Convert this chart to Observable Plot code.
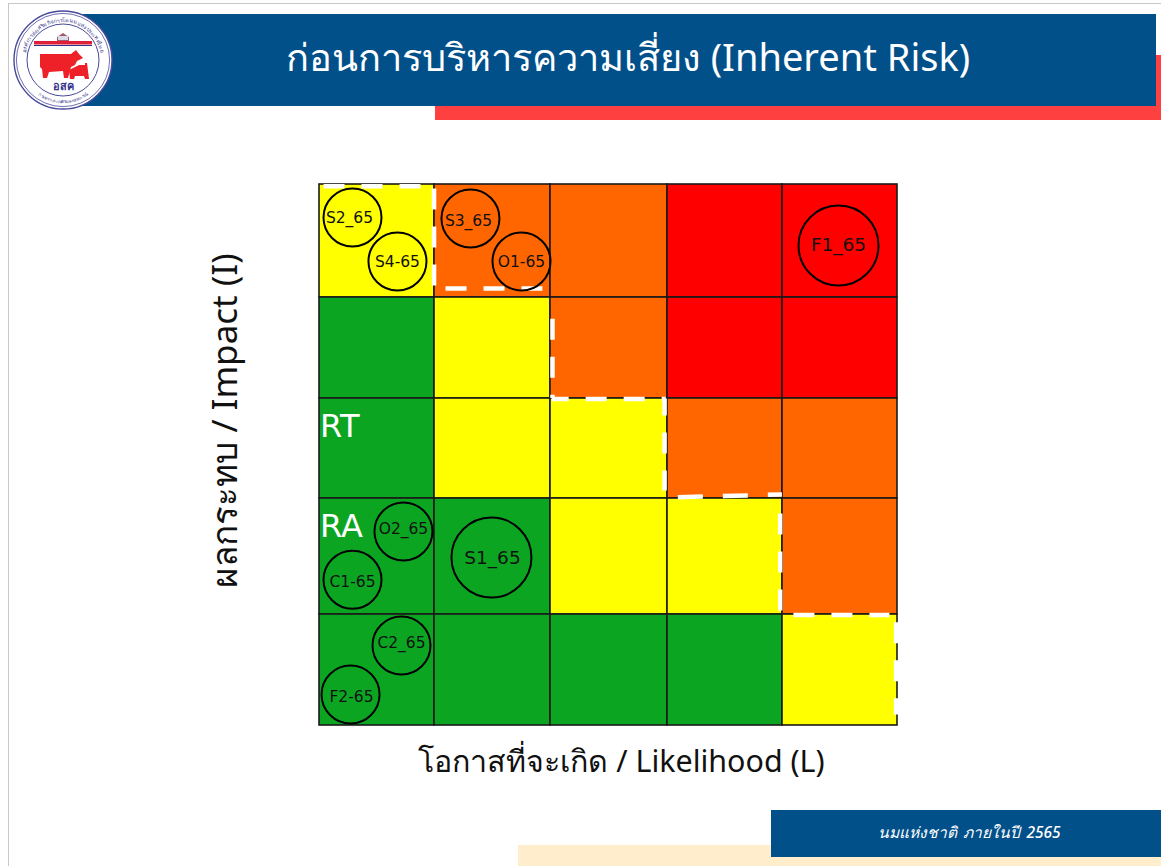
<!DOCTYPE html>
<html lang="th">
<head>
<meta charset="utf-8">
<script src="https://cdn.jsdelivr.net/npm/d3@7"></script>
<script src="https://cdn.jsdelivr.net/npm/@observablehq/plot@0.6"></script>
<style>
html,body{margin:0;padding:0;background:#fff;width:1161px;height:866px;overflow:hidden;font-family:"Noto Sans","Open Sans",sans-serif}
.abs{position:absolute}
#frameT{left:8px;top:3px;width:1153px;height:1px;background:#c8c8c8}
#frameL{left:8px;top:3px;width:1px;height:863px;background:#c8c8c8}
#red{left:435px;top:55px;width:726px;height:65px;background:#ff4040}
#blue{left:70px;top:14px;width:1086px;height:92px;background:#02508a}
h1{position:absolute;left:100px;top:13px;width:1056px;height:86px;margin:0;line-height:86px;text-align:center;color:#fff;font-size:38px;font-weight:400;white-space:nowrap}
#logo{left:13px;top:9px;width:100px;height:102px}
#chart{left:0;top:130px}
#beige{left:518px;top:845px;width:643px;height:21px;background:#ffedcc}
#foot{left:771px;top:810px;width:390px;height:47px;background:#02508a;color:#fff;font-style:italic;font-weight:500;font-size:15.5px;line-height:45px;text-align:center;padding-left:7px;box-sizing:border-box;word-spacing:2px}
</style>
</head>
<body>
<div class="abs" id="frameT"></div><div class="abs" id="frameL"></div>
<div class="abs" id="red"></div><div class="abs" id="blue"></div>
<h1>ก่อนการบริหารความเสี่ยง (Inherent Risk)</h1>
<svg class="abs" id="logo" viewBox="0 0 100 102" aria-label="logo">
  <circle cx="50" cy="51" r="49" fill="#fff" stroke="#4a4a9c" stroke-width="1.4"/>
  <circle cx="50" cy="51" r="46.6" fill="none" stroke="#4a4a9c" stroke-width=".8"/>
  <circle cx="50" cy="51" r="36" fill="#fff" stroke="#4a4a9c" stroke-width="1"/>
  <defs>
    <path id="ringTop" d="M12 51 A38 38 0 0 1 88 51"/>
    <path id="ringBot" d="M8 60.4 A43 43 0 0 0 92 60.4"/>
  </defs>
  <text font-size="5.4" fill="#33338a" font-family="Noto Sans"><textPath href="#ringTop" startOffset="50%" text-anchor="middle">องค์การส่งเสริมกิจการโคนมแห่งประเทศไทย</textPath></text>
  <text font-size="4.6" fill="#33338a" font-family="Noto Sans"><textPath href="#ringBot" startOffset="50%" text-anchor="middle">กระทรวงเกษตรและสหกรณ์</textPath></text>
  <rect x="21" y="32" width="58" height="3.5" fill="#e0203a"/>
  <rect x="21" y="36" width="58" height="1" fill="#33338a"/>
  <path d="M44 32V28L50 24L56 28V32Z" fill="#a05a6a"/>
  <rect x="45" y="27" width="10" height="4" fill="#dcdce8"/>
  <path d="M27 45H58L63 41L66 45L70 49L64 52L62 56L58 58L55 69H51L50 62L36 63L34 69H30L29 60L27 58Z" fill="#ee2028"/>
  <path d="M56 61L66 56H72V54H74L76 70H72L71 67H62L61 70H57Z" fill="#ee2028"/>
  <text x="50" y="81" text-anchor="middle" font-size="11" font-weight="700" fill="#33338a" font-family="Noto Sans">อสค</text>
</svg>
<div class="abs" id="chart"></div>
<div class="abs" id="beige"></div>
<div class="abs" id="foot">นมแห่งชาติ ภายในปี 2565</div>
<script>
// Grid: likelihood columns 1..5, impact rows 5..1 (top to bottom)
const rowImpact = [5, 4, 3, 2, 1];
const levelColor = {G: "#0ca522", Y: "#ffff00", O: "#ff6600", R: "#ff0000"};
const rowLevels = [
  ["Y", "O", "O", "R", "R"],
  ["G", "Y", "O", "R", "R"],
  ["G", "Y", "Y", "O", "O"],
  ["G", "G", "Y", "Y", "O"],
  ["G", "G", "G", "G", "Y"]
];
const cells = rowImpact.flatMap((imp, r) => rowLevels[r].map((lv, c) => ({L: c + 1, I: imp, lv})));

// Risk items: circle position and label position in likelihood / impact units
const riskNames = ["S2_65", "S4-65", "S3_65", "O1-65", "O2_65", "C1-65", "C2_65", "F2-65"];
const riskL =     [0.287, 0.678, 1.31, 1.75, 0.73, 0.287, 0.713, 0.27];
const riskI =     [4.708, 4.319, 4.699, 4.319, 1.716, 1.30, 0.721, 0.279];
const riskTextL = [0.261, 0.678, 1.293, 1.75, 0.73, 0.287, 0.713, 0.278];
const riskTextI = [4.699, 4.31, 4.681, 4.31, 1.733, 1.284, 0.739, 0.252];
const bigNames = ["S1_65", "F1_65"];
const bigL = [1.491, 4.487];
const bigI = [1.491, 4.46];
const bigTextL = [1.5, 4.487];
const bigTextI = [1.483, 4.46];
const risks = riskNames.map((n, i) => ({n, L: riskL[i], I: riskI[i], tL: riskTextL[i], tI: riskTextI[i]}));
const bigRisks = bigNames.map((n, i) => ({n, L: bigL[i], I: bigI[i], tL: bigTextL[i], tI: bigTextI[i]}));

// Zone tags
const zoneNames = ["RT", "RA"];
const zoneL = [0.005, 0.005];
const zoneI = [2.72, 1.76];

// Risk-appetite boundary (dashed white staircase)
const stairA = [
  [0.035, 4.985, 0.88, 4.985],
  [0.996, 4.965, 0.996, 4.10],
  [1.095, 4.08, 1.93, 4.08],
  [2.017, 3.79, 2.017, 3.005],
  [3.98, 1.87, 3.98, 1.015],
  [4.095, 0.995, 4.93, 0.995],
  [4.988, 0.93, 4.988, 0.10]
];
const stairB = [
  [2.01, 2.995, 2.985, 2.995],
  [2.975, 3.0, 2.975, 2.08]
];
const stairC = [[3.09, 2.013, 3.995, 2.04]];
const toSeg = ([x1, y1, x2, y2]) => ({x1, y1, x2, y2});

const xLabel = "โอกาสที่จะเกิด / Likelihood (L)";
const yLabel = "ผลกระทบ / Impact (I)";
const font = '"Noto Sans","Open Sans",sans-serif';
const tagFont = '"DejaVu Sans",sans-serif';

const dash = (segs, dasharray, offset) => Plot.link(segs.map(toSeg), {
  x1: "x1", y1: "y1", x2: "x2", y2: "y2",
  stroke: "#fff", strokeWidth: 4.5, strokeDasharray: dasharray, strokeDashoffset: offset
});

const chart = Plot.plot({
  width: 1161, height: 650,
  marginLeft: 0, marginRight: 0, marginTop: 0, marginBottom: 0,
  x: {type: "linear", domain: [0, 1, 2, 3, 4, 5], range: [319, 434, 550, 667, 782, 897], axis: null},
  y: {type: "linear", domain: [0, 1, 2, 3, 4, 5], range: [595, 484, 368, 268, 167, 54], axis: null},
  style: {background: "transparent", fontFamily: font, overflow: "visible"},
  marks: [
    Plot.rect(cells, {
      x1: d => d.L - 1, x2: "L", y1: d => d.I - 1, y2: "I",
      fill: d => levelColor[d.lv], stroke: "#1a1a1a", strokeWidth: 1.6
    }),
    dash(stairA, "21 17", 0),
    dash(stairB, "21 17", 4),
    dash(stairC, "25 20", 0),
    Plot.dot(risks, {x: "L", y: "I", r: 29, stroke: "#000", strokeWidth: 2, fill: "none"}),
    Plot.dot(bigRisks, {x: "L", y: "I", r: 40, stroke: "#000", strokeWidth: 2, fill: "none"}),
    Plot.text(risks, {x: "tL", y: "tI", text: "n", fontSize: 15.5, fontFamily: tagFont, fill: "#111"}),
    Plot.text(bigRisks, {x: "tL", y: "tI", text: "n", fontSize: 18.5, fontFamily: tagFont, fill: "#111"}),
    Plot.text(zoneNames, {x: zoneL, y: zoneI, text: d => d, fontSize: 32, fontFamily: tagFont, fill: "#fff", textAnchor: "start"}),
    Plot.text([xLabel], {x: [2.607], y: [-0.333], text: d => d, fontSize: 30.4, fill: "#111"}),
    Plot.text([yLabel], {x: [-0.817], y: [2.78], text: d => d, fontSize: 35, fill: "#111", rotate: -90})
  ]
});
document.getElementById("chart").append(chart);
</script>
</body>
</html>
